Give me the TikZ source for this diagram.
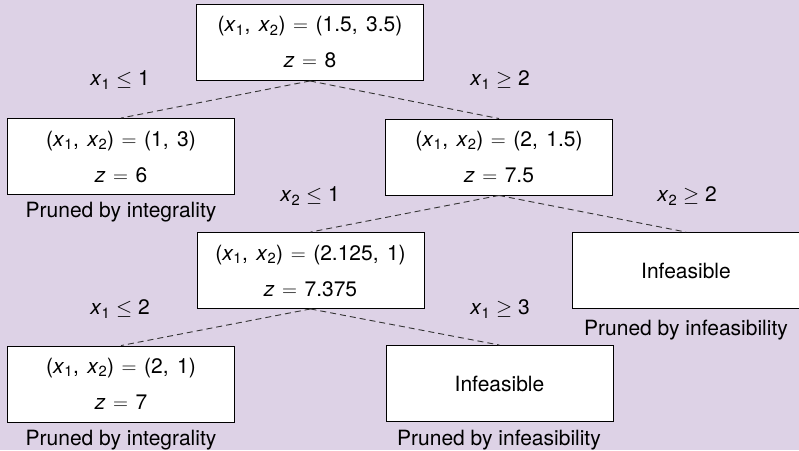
\documentclass[tikz,border=0pt]{standalone}
\usepackage{amsmath}
\usepackage{fontspec}
\setmainfont{TeX Gyre Heros}
\definecolor{bg}{RGB}{221,210,230}
\newcommand\xv[1]{\textit{x}$_{\text{#1}}$}
\newcommand\cm{,\hspace{0.4em}}
\newcommand\eq{\hspace{0.36em}$=$\hspace{0.36em}}
\tikzset{
  boxst/.style={draw=black, fill=white, line width=0.9pt, minimum width=227pt,
    minimum height=76pt, inner sep=0pt, align=center},
  edgest/.style={draw=black!80, line width=0.9pt, dash pattern=on 6pt off 4pt},
}
\begin{document}
\begin{tikzpicture}[x=1pt, y=-1pt, font=\fontsize{21}{36}\selectfont]
\fill[bg] (0,0) rectangle (799,450);
\useasboundingbox (0,0) rectangle (799,450);

\node[boxst] (r) at (310,42.5) {(\xv{1}\cm\xv{2})\eq(1.5\cm3.5)\\ \textit{z}\eq8};
\node[boxst] (a) at (121,156.5) {(\xv{1}\cm\xv{2})\eq(1\cm3)\\ \textit{z}\eq6};
\node[boxst] (b) at (499,157) {(\xv{1}\cm\xv{2})\eq(2\cm1.5)\\ \textit{z}\eq7.5};
\node[boxst] (c) at (310.5,270.5) {(\xv{1}\cm\xv{2})\eq(2.125\cm1)\\ \textit{z}\eq7.375};
\node[boxst] (d) at (686,270.5) {Infeasible};
\node[boxst] (e) at (121,384) {(\xv{1}\cm\xv{2})\eq(2\cm1)\\ \textit{z}\eq7};
\node[boxst] (f) at (499.5,383.5) {Infeasible};

\draw[edgest] (r.south) -- (a.north);
\draw[edgest] (r.south) -- (b.north);
\draw[edgest] (b.south) -- (c.north);
\draw[edgest] (b.south) -- (d.north);
\draw[edgest] (c.south) -- (e.north);
\draw[edgest] (c.south) -- (f.north);

\node (l1) at (120,80) {\xv{1} $\leq$ 1};
\node (l2) at (500,80) {\xv{1} $\geq$ 2};
\node (l3) at (310,196) {\xv{2} $\leq$ 1};
\node (l4) at (687,196) {\xv{2} $\geq$ 2};
\node (l5) at (120,309) {\xv{1} $\leq$ 2};
\node (l6) at (500,309) {\xv{1} $\geq$ 3};

\node (pa) at (121,212) {Pruned by integrality};
\node (pd) at (686,330) {Pruned by infeasibility};
\node (pe) at (121,440) {Pruned by integrality};
\node (pf) at (499,440) {Pruned by infeasibility};
\end{tikzpicture}
\end{document}
